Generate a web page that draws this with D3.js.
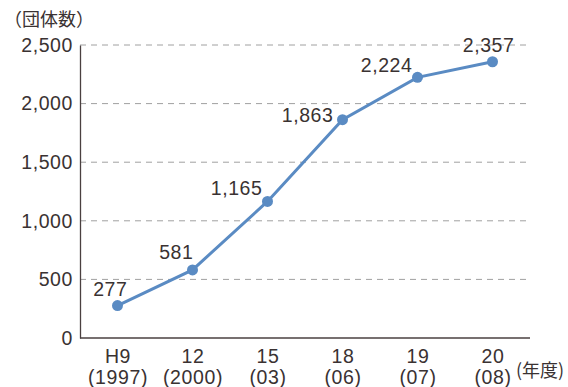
<!DOCTYPE html>
<html>
<head>
<meta charset="utf-8">
<script src="https://cdn.jsdelivr.net/npm/d3@7"></script>
<style>
  body { margin: 0; background: #fff; }
  svg text { font-family: "Liberation Sans", Arial, sans-serif; fill: #3a3232; }
  svg text.jp { font-family: "Noto Sans CJK JP", sans-serif; }
</style>
</head>
<body>
<div id="chart"></div>
<script>
// データ
const years = ["H9", "12", "15", "18", "19", "20"];
const yearsWestern = ["(1997)", "(2000)", "(03)", "(06)", "(07)", "(08)"];
const counts = [277, 581, 1165, 1863, 2224, 2357];
const yTicks = [0, 500, 1000, 1500, 2000, 2500];

// ラベルの位置調整 (text-anchor end 基準)
const labelDx = [10, 1, -5, -9, -5, 22];
const labelDy = [-10, -11, -6, 2, -5, -10];

const width = 568, height = 387;
const m = { left: 80, right: 530, top: 45, bottom: 338 };
const fontSize = "19.5px";
const spacing = "0.6px";

const svg = d3.select("#chart").append("svg")
  .attr("width", width)
  .attr("height", height);

const x = d3.scalePoint().domain(years).range([m.left, m.right]).padding(0.5);
const y = d3.scaleLinear().domain([0, 2500]).range([m.bottom, m.top]);

// グリッド線
svg.append("g")
  .selectAll("line")
  .data(yTicks.filter(d => d > 0))
  .enter()
  .append("line")
  .attr("x1", m.left)
  .attr("x2", m.right)
  .attr("y1", d => y(d))
  .attr("y2", d => y(d))
  .attr("stroke", "#a0a0a0")
  .attr("stroke-width", 1)
  .attr("stroke-dasharray", "6,5");

// Y軸
const yAxis = svg.append("g")
  .attr("transform", `translate(${m.left},0)`)
  .call(d3.axisLeft(y).tickValues(yTicks).tickSize(0).tickPadding(7).tickFormat(d3.format(",")));
yAxis.select(".domain").attr("stroke", "#4a4040").attr("stroke-width", 1.3);
yAxis.selectAll("text")
  .attr("font-family", null)
  .attr("font-size", fontSize)
  .attr("letter-spacing", spacing);

// X軸
const xAxis = svg.append("g")
  .attr("transform", `translate(0,${m.bottom})`)
  .call(d3.axisBottom(x).tickSize(0).tickFormat(""));
xAxis.select(".domain").attr("d", `M${m.left},0H${m.right}`).attr("stroke", "#4a4040").attr("stroke-width", 1.3);

xAxis.selectAll(".tick").each(function (d, i) {
  const t = d3.select(this).append("text")
    .attr("text-anchor", "middle")
    .attr("font-size", fontSize)
    .attr("letter-spacing", spacing);
  t.append("tspan").attr("x", 0).attr("y", 25).text(d);
  t.append("tspan").attr("x", 0).attr("y", 46).text(yearsWestern[i]);
});

// 単位
svg.append("text")
  .attr("class", "jp")
  .attr("x", 4)
  .attr("y", 26)
  .attr("font-size", "18px")
  .text("（団体数）");

svg.append("text")
  .attr("class", "jp")
  .attr("x", 516)
  .attr("y", 377)
  .attr("font-size", "18px")
  .text("(年度)");

// 折れ線
const line = d3.line()
  .x((d, i) => x(years[i]))
  .y(d => y(d));

svg.append("path")
  .datum(counts)
  .attr("fill", "none")
  .attr("stroke", "#5a8bc3")
  .attr("stroke-width", 3)
  .attr("d", line);

svg.selectAll("circle.pt")
  .data(counts)
  .enter()
  .append("circle")
  .attr("class", "pt")
  .attr("cx", (d, i) => x(years[i]))
  .attr("cy", d => y(d))
  .attr("r", 5.5)
  .attr("fill", "#5a8bc3");

// 値ラベル
svg.selectAll("text.val")
  .data(counts)
  .enter()
  .append("text")
  .attr("class", "val")
  .attr("x", (d, i) => x(years[i]) + labelDx[i])
  .attr("y", (d, i) => y(d) + labelDy[i])
  .attr("text-anchor", "end")
  .attr("font-size", fontSize)
  .attr("letter-spacing", spacing)
  .text(d => d3.format(",")(d));
</script>
</body>
</html>
